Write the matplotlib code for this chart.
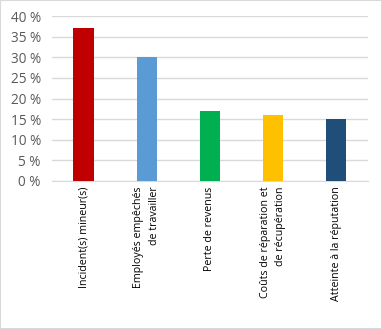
import matplotlib.pyplot as plt
import numpy as np
from matplotlib.ticker import FuncFormatter

plt.rcParams['font.family'] = ['Open Sans', 'DejaVu Sans']

categories = ['Incident(s) mineur(s)', 'Employés empêchés\nde travailler',
              'Perte de revenus', 'Coûts de réparation et\nde récupération',
              'Atteinte à la réputation']
values = [37, 30, 17, 16, 15]
colors = ['#C00000', '#5B9BD5', '#00B050', '#FFC000', '#1F4E79']

fig = plt.figure(figsize=(3.82, 3.29), dpi=100)
ax = fig.add_axes([0.136, 0.450, 0.827, 0.501])

x = np.arange(len(categories))
ax.bar(x, values, width=0.32, color=colors, zorder=3)

ax.set_xlim(-0.5, len(categories) - 0.5)
ax.set_ylim(0, 40)
ax.set_yticks(np.arange(0, 41, 5))
ax.yaxis.set_major_formatter(FuncFormatter(lambda v, p: f'{int(v)} %'))
ax.grid(axis='y', color='#d9d9d9', linewidth=1, zorder=0)

ax.set_xticks(x)
ax.set_xticklabels(categories, rotation=90, va='top', ha='center',
                   multialignment='right', fontsize=7.7, color='#000000',
                   linespacing=1.6)
ax.tick_params(axis='y', length=0, labelsize=9.8, labelcolor='#595959', pad=8)
ax.tick_params(axis='x', length=0, pad=4)

for s in ['top', 'right', 'left']:
    ax.spines[s].set_visible(False)
ax.spines['bottom'].set_color('#d9d9d9')

fig.patches.append(plt.Rectangle((0, 0), 1, 1, transform=fig.transFigure,
                                 fill=False, edgecolor='#d9d9d9', linewidth=1.5))

plt.savefig('out.png', dpi=100)
